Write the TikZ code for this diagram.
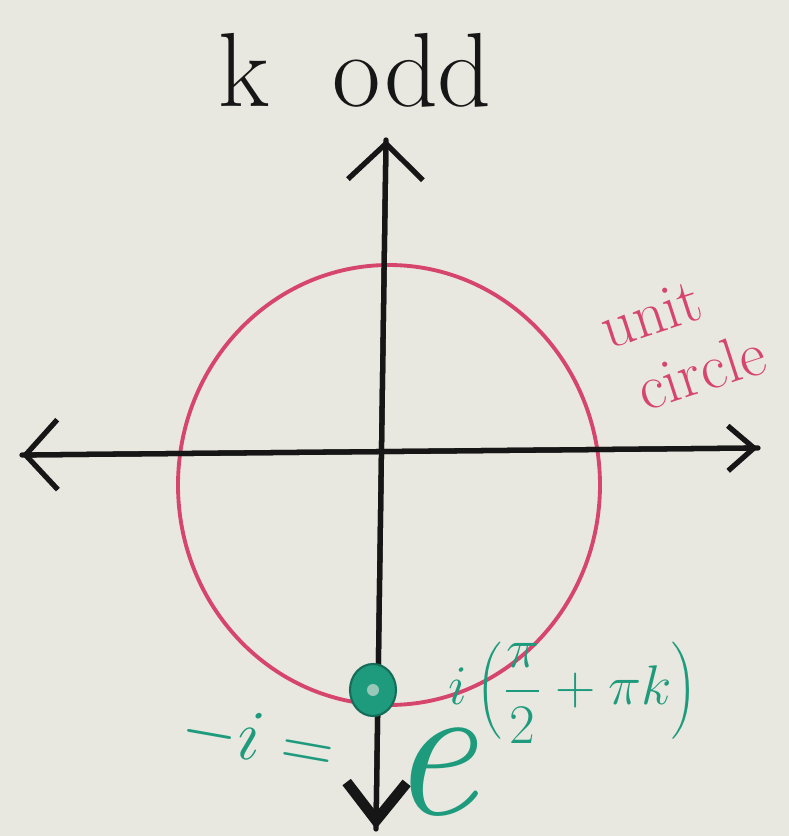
\documentclass[tikz,border=0pt]{standalone}
\usepackage{tikz}
\usetikzlibrary{positioning,arrows.meta,shapes.geometric}
\definecolor{Board}{HTML}{E9E8E0}
\definecolor{Ink}{HTML}{161616}
\definecolor{Marker}{HTML}{D6466C}
\definecolor{Teal}{HTML}{1E9B7D}
\tikzset{
  axisline/.style={Ink,line width=1.5pt,line cap=round},
  redlabel/.style={text=Marker,font=\fontsize{18}{20}\selectfont,align=center},
  greenlabel/.style={text=Teal,inner sep=0pt},
}
\begin{document}
\begin{tikzpicture}[x=1cm,y=1cm]
        \fill[Board] (0,0) rectangle (7.89,8.36);
        \useasboundingbox (0,0) rectangle (7.89,8.36);
        \coordinate (xl) at (0.22,3.81);
        \coordinate (xr) at (7.58,3.88);
        \coordinate (yt) at (3.86,6.96);
        \coordinate (yb) at (3.76,0.07);
        \coordinate (ctr) at (3.89,3.51);
        \draw[Marker,line width=1.1pt] (ctr) ellipse [x radius=2.11,y radius=2.2];
        \draw[axisline,-{Straight Barb[length=3.2mm,width=7mm,line width=1.5pt]}]
              (xr) -- (xl);
        \draw[axisline,-{Straight Barb[length=2.6mm,width=4.5mm,line width=1.5pt]}]
              (xl) -- (xr);
        \draw[axisline,-{Straight Barb[length=3.6mm,width=7.5mm,line width=1.5pt]}]
              (yb) -- (yt);
        \draw[axisline,-{Straight Barb[length=3.8mm,width=6mm,line width=3pt]}]
              (yt) -- (yb);
        \node[ellipse,fill=Teal,draw=Teal!70!black,line width=0.6pt,
              minimum width=4.6mm,minimum height=5.2mm,inner sep=0pt] (pt) at (3.73,1.46) {};
        \fill[Board!60!Teal] (pt.center) circle (0.6mm);
        \node[font=\fontsize{30}{32}\selectfont,text=Ink] (title) at (3.55,7.66) {k\ \ odd};
        \node[redlabel,rotate=18] (unit) at (6.62,4.88) {unit\\\hspace*{6mm}circle};
        \node[greenlabel,font=\fontsize{22}{24}\selectfont,rotate=-10] (mi) at (2.58,0.96) {$-i=$};
        \node[greenlabel,font=\fontsize{56}{58}\selectfont\itshape] (ee) at (4.33,0.64) {e};
        \node[greenlabel,font=\fontsize{18}{20}\selectfont,anchor=west,scale=0.92]
              (ex) at ([xshift=-3mm,yshift=3.4mm]ee.north east) {$\displaystyle i\left(\frac{\pi}{2}+\pi k\right)$};
      \end{tikzpicture}
\end{document}
